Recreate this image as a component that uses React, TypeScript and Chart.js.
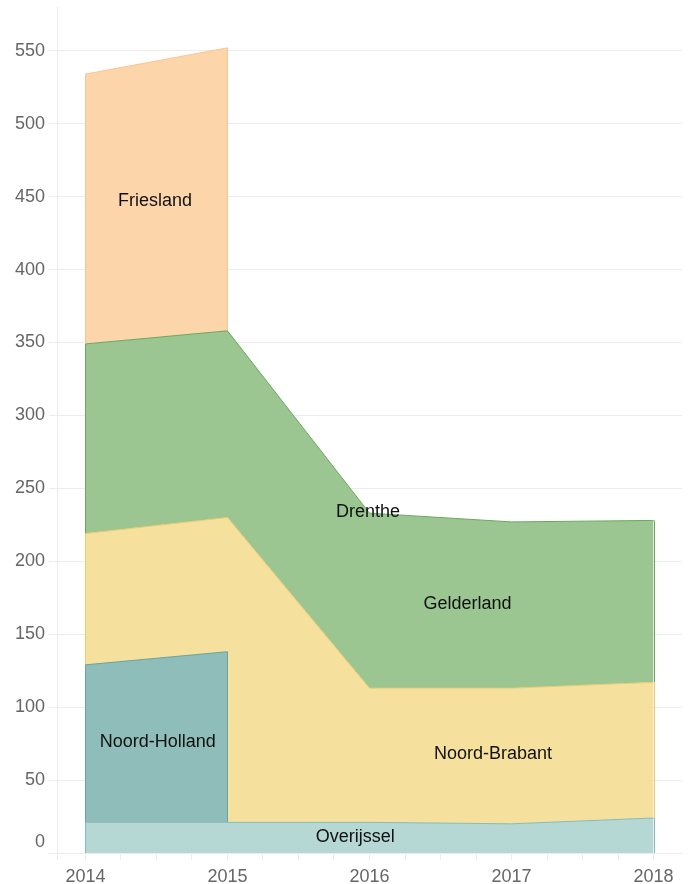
import React, { useEffect, useRef } from 'react';
import { Chart, registerables } from 'chart.js';

Chart.register(...registerables);

// ---- data ----
const years = ['2014', '2015', '2016', '2017', '2018'];
const overijssel: (number | null)[] = [21, 21, 21, 20, 24];
const noordHolland: (number | null)[] = [108, 117, null, null, null];
const noordBrabant: (number | null)[] = [90, 92, 92, 93, 93];
const gelderland: (number | null)[] = [130, 128, 120, 114, 111];
const drenthe: (number | null)[] = [0, 0, 0, 0, 0];
const friesland: (number | null)[] = [185, 194, null, null, null];
const yTickValues = [0, 50, 100, 150, 200, 250, 300, 350, 400, 450, 500, 550];
const yMax = 580;

const seriesNames = ['Overijssel', 'Noord-Holland', 'Noord-Brabant', 'Gelderland', 'Drenthe', 'Friesland'];
const seriesValues = [overijssel, noordHolland, noordBrabant, gelderland, drenthe, friesland];

// ---- styles ----
const fills = ['#b5d8d5', '#8fbdba', '#f6e09e', '#9bc692', 'rgba(0,0,0,0)', '#fdd5ab'];
const borders = ['#86bcb8', '#68a49f', '#e8cb70', '#6aa85d', 'rgba(0,0,0,0)', '#fcc590'];
const fillTargets: (string | number | false)[] = ['origin', 0, 0, 2, false, 3];
const gridColor = '#ececec';
const tickColor = '#666666';
const fontFamily = '"Liberation Sans", Arial, Helvetica, sans-serif';

// label anchors (x in category index units, y in value units)
const labelAnchors = [
  { text: 'Friesland', x: 0.49, y: 447 },
  { text: 'Noord-Holland', x: 0.51, y: 76 },
  { text: 'Drenthe', x: 1.99, y: 234 },
  { text: 'Gelderland', x: 2.69, y: 171 },
  { text: 'Noord-Brabant', x: 2.87, y: 68 },
  { text: 'Overijssel', x: 1.9, y: 11 },
];

function stackTops(): (number | null)[][] {
  const base = years.map(() => 0);
  return seriesValues.map((vals) =>
    vals.map((v, i) => {
      if (v === null) return null;
      base[i] += v;
      return base[i];
    })
  );
}

const edgePlugin = {
  id: 'edgePlugin',
  afterDatasetDraw(chart: any, args: any) {
    const i = args.index;
    const target = fillTargets[i];
    const ds = chart.data.datasets[i];
    if (target === false) return;
    const xs = chart.scales.x;
    const ys = chart.scales.y;
    const pts = ds.data.filter((p: any) => p.y !== null);
    if (!pts.length) return;
    const ends = [pts[0], pts[pts.length - 1]];
    const ctx = chart.ctx;
    ctx.save();
    ctx.strokeStyle = borders[i];
    ctx.lineWidth = 1;
    ends.forEach((p: any) => {
      let bottom = 0;
      if (typeof target === 'number') {
        const t = chart.data.datasets[target].data.find((q: any) => q.x === p.x);
        bottom = t && t.y !== null ? t.y : 0;
      }
      const px = Math.round(xs.getPixelForValue(p.x)) + 0.5;
      ctx.beginPath();
      ctx.moveTo(px, ys.getPixelForValue(p.y));
      ctx.lineTo(px, ys.getPixelForValue(bottom));
      ctx.stroke();
    });
    ctx.restore();
  },
};

const labelPlugin = {
  id: 'areaLabels',
  afterDatasetsDraw(chart: any) {
    const ctx = chart.ctx;
    const xs = chart.scales.x;
    const ys = chart.scales.y;
    ctx.save();
    ctx.font = `18px ${fontFamily}`;
    ctx.fillStyle = '#111111';
    ctx.textAlign = 'center';
    ctx.textBaseline = 'middle';
    labelAnchors.forEach((l) => {
      ctx.fillText(l.text, xs.getPixelForValue(l.x), ys.getPixelForValue(l.y));
    });
    ctx.restore();
  },
};

export default function App() {
  const ref = useRef<HTMLCanvasElement | null>(null);

  useEffect(() => {
    if (!ref.current) return;
    const tops = stackTops();
    const datasets = seriesNames.map((name, i) => ({
      label: name,
      data: years.map((_, j) => ({ x: j, y: tops[i][j] })),
      backgroundColor: fills[i],
      borderColor: borders[i],
      borderWidth: 1,
      fill: fillTargets[i],
      pointRadius: 0,
      pointHoverRadius: 0,
      tension: 0,
      spanGaps: false,
    }));

    const chart = new Chart(ref.current, {
      type: 'line',
      data: { datasets: datasets as any },
      options: {
        responsive: false,
        animation: false,
        events: [],
        layout: { padding: { top: 7, right: 9, bottom: 0, left: 0 } },
        plugins: {
          legend: { display: false },
          tooltip: { enabled: false },
          filler: { propagate: false },
        },
        scales: {
          x: {
            type: 'linear',
            min: -0.2,
            max: 4.2,
            afterBuildTicks: (scale: any) => {
              const t: any[] = [{ value: -0.2 }];
              for (let k = 0; k <= 16; k++) t.push({ value: k / 4 });
              scale.ticks = t;
            },
            afterFit: (scale: any) => {
              scale.height = 31;
              scale.paddingLeft = 0;
              scale.paddingRight = 0;
            },
            grid: {
              drawOnChartArea: false,
              drawTicks: true,
              tickLength: 7,
              color: gridColor,
            },
            border: { display: true, color: gridColor },
            ticks: {
              autoSkip: false,
              maxRotation: 0,
              padding: 6,
              color: tickColor,
              font: { family: fontFamily, size: 18 },
              callback: (v: any) => {
                const n = Number(v);
                return Number.isInteger(n) && n >= 0 && n < years.length ? years[n] : '';
              },
            },
          },
          y: {
            type: 'linear',
            min: 0,
            max: yMax,
            afterBuildTicks: (scale: any) => {
              scale.ticks = yTickValues.map((v) => ({ value: v }));
            },
            afterFit: (scale: any) => {
              scale.width = 57;
              scale.paddingTop = 0;
              scale.paddingBottom = 0;
            },
            grid: {
              color: gridColor,
              drawTicks: true,
              tickLength: 8,
            },
            border: { display: true, color: gridColor },
            ticks: {
              autoSkip: false,
              padding: 4,
              color: tickColor,
              font: { family: fontFamily, size: 18, lineHeight: '22px' },
              callback: (v: any) => (Number(v) === 0 ? ['0', ''] : String(v)),
            },
          },
        },
      },
      plugins: [edgePlugin, labelPlugin],
    });
    return () => chart.destroy();
  }, []);

  return (
    <div style={{ position: 'fixed', left: 0, top: 0, width: 691, height: 884, background: '#ffffff' }}>
      <canvas ref={ref} width={691} height={884} style={{ display: 'block', width: 691, height: 884 }} />
    </div>
  );
}
